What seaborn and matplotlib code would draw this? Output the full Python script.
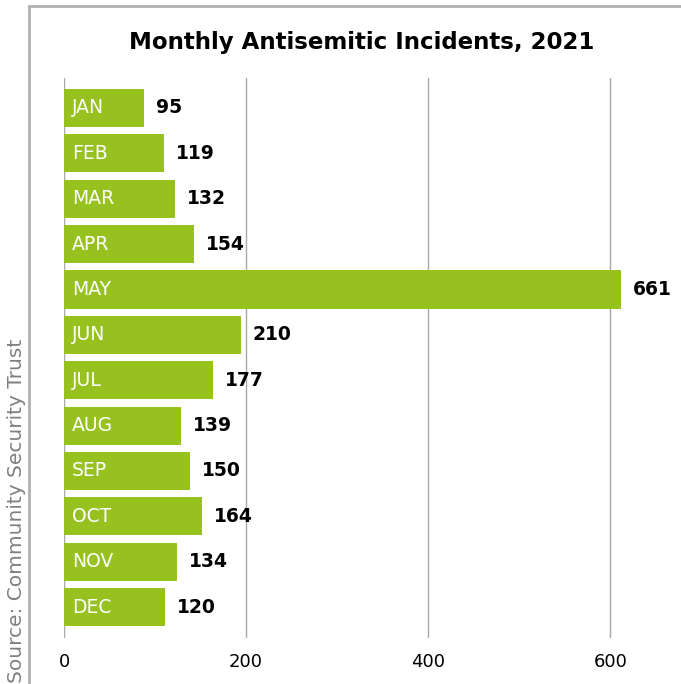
import matplotlib
matplotlib.use("Agg")
import matplotlib.pyplot as plt
import numpy as np
import pandas as pd
import seaborn as sns
from matplotlib.lines import Line2D

# Chart data
months = ['JAN', 'FEB', 'MAR', 'APR', 'MAY', 'JUN', 'JUL', 'AUG', 'SEP', 'OCT', 'NOV', 'DEC']
incidents = [95, 119, 132, 154, 661, 210, 177, 139, 150, 164, 134, 120]
tick_labels = [0, 200, 400, 600]

# the reference draws its gridlines on a slightly stretched scale vs. the bars
tick_scale = 1.08

df = pd.DataFrame({'month': months, 'incidents': incidents})

sns.set_style('white')
plt.rcParams['font.family'] = ['DejaVu Sans']

fig = plt.figure(figsize=(6.81, 6.84), dpi=100)
ax = fig.add_axes([64 / 681, 46 / 684, 617 / 681, 560 / 684])

sns.barplot(data=df, y='month', x='incidents', orient='h', color='#96c11f',
            saturation=1, width=0.84, linewidth=0, ax=ax, zorder=3)

ax.set_xlim(0, 732)
ax.set_ylim(11.68, -0.66)
ax.set_xticks(np.array(tick_labels) * tick_scale)
ax.set_xticklabels([str(t) for t in tick_labels], fontsize=13, color='black')
ax.tick_params(axis='x', length=0, pad=11)
ax.set_yticks([])
ax.set_xlabel('')
ax.set_ylabel('')
ax.grid(axis='x', color='#a8a8a8', linewidth=1, zorder=0)
for s in ax.spines.values():
    s.set_visible(False)

# month names inside bars, values just outside
for i, (m, v) in enumerate(zip(months, incidents)):
    ax.annotate(m, (0, i), xytext=(5.8, 0), textcoords='offset points',
                ha='left', va='center', color='white', fontsize=13.5,
                zorder=4)
    ax.annotate(str(v), (v, i), xytext=(8.6, 0), textcoords='offset points',
                ha='left', va='center', color='black', fontsize=13.5,
                fontweight='heavy', zorder=4)

fig.text(362 / 681, 1 - 42 / 684, 'Monthly Antisemitic Incidents, 2021',
         ha='center', va='center', fontsize=16.5, fontweight='heavy', color='black')

fig.text(17 / 681, 0.002, 'Source: Community Security Trust', rotation=90,
         ha='center', va='bottom', fontsize=14.5, color='#808080')

# frame lines at left and top
fig.add_artist(Line2D([29 / 681, 29 / 681], [0, 1 - 6 / 684], color='#b0b0b0', linewidth=2))
fig.add_artist(Line2D([29 / 681, 1], [1 - 6 / 684, 1 - 6 / 684], color='#b0b0b0', linewidth=2))

fig.savefig('out.png', dpi=100)
